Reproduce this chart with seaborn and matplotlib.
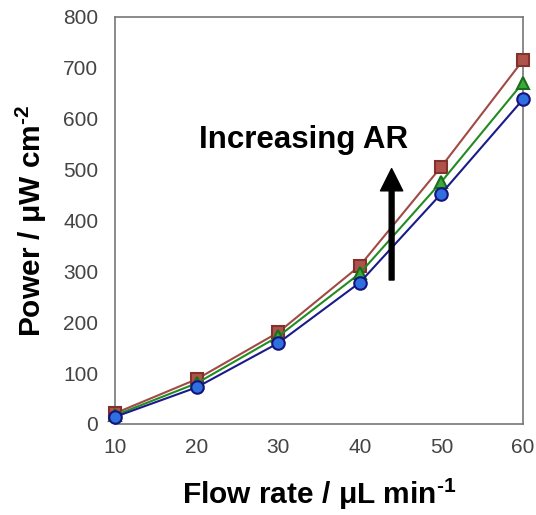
import matplotlib
matplotlib.use("Agg")
import matplotlib.pyplot as plt
import seaborn as sns
import pandas as pd

# Power density vs. flow rate for three aspect ratios
flow_rate = [10, 20, 30, 40, 50, 60]
power_high_ar = [21, 88, 180, 311, 506, 715]
power_mid_ar = [17, 80, 172, 296, 476, 671]
power_low_ar = [14, 72, 159, 278, 453, 638]

x_ticks = [10, 20, 30, 40, 50, 60]
y_ticks = [0, 100, 200, 300, 400, 500, 600, 700, 800]

sns.set_theme(style="white")
plt.rcParams["font.family"] = ["Liberation Sans", "DejaVu Sans"]
plt.rcParams["mathtext.fontset"] = "custom"
plt.rcParams["mathtext.rm"] = "Liberation Sans:bold"
plt.rcParams["mathtext.bf"] = "Liberation Sans:bold"
plt.rcParams["text.color"] = "black"
plt.rcParams["axes.labelcolor"] = "black"

fig = plt.figure(figsize=(5.36, 5.15), dpi=100)
ax = fig.add_axes([0.2146, 0.1767, 0.7611, 0.7903])

series = [
    (power_high_ar, "#A04A45", "s", "#B0524C", "#82322D"),
    (power_mid_ar, "#228B22", "^", "#3DA83D", "#1B6E1B"),
    (power_low_ar, "#1A1A8A", "o", "#2F6FE0", "#14147A"),
]
for vals, lc, mk, fc, ec in series:
    df = pd.DataFrame({"flow": flow_rate, "power": vals})
    sns.lineplot(data=df, x="flow", y="power", ax=ax, color=lc, lw=1.5,
                 marker=mk, markersize=9, markerfacecolor=fc,
                 markeredgecolor=ec, markeredgewidth=1.5, clip_on=False,
                 zorder=3)

ax.set_xlim(10, 60)
ax.set_ylim(0, 800)
ax.set_xticks(x_ticks)
ax.set_yticks(y_ticks)
ax.tick_params(direction="in", length=6, width=1.0, color="#555555",
               labelsize=15, labelcolor="#444444")
ax.tick_params(axis="y", pad=12)
ax.tick_params(axis="x", pad=10)
for sp in ax.spines.values():
    sp.set_color("#777777")
    sp.set_linewidth(1.2)

ax.set_xlabel("Flow rate / μL min$^{\\text{-1}}$", fontsize=21.5,
              fontweight="bold", labelpad=14)
ax.set_ylabel("Power / μW cm$^{\\text{-2}}$", fontsize=21.5,
              fontweight="bold", labelpad=10)

ax.annotate("", xy=(43.9, 502), xytext=(43.9, 283),
            arrowprops=dict(facecolor="black", edgecolor="black",
                            width=3.5, headwidth=16, headlength=16))
ax.text(33.1, 558, "Increasing AR", fontsize=22.5, fontweight="bold",
        ha="center", va="center", color="black")

fig.savefig("out.png", dpi=100)
